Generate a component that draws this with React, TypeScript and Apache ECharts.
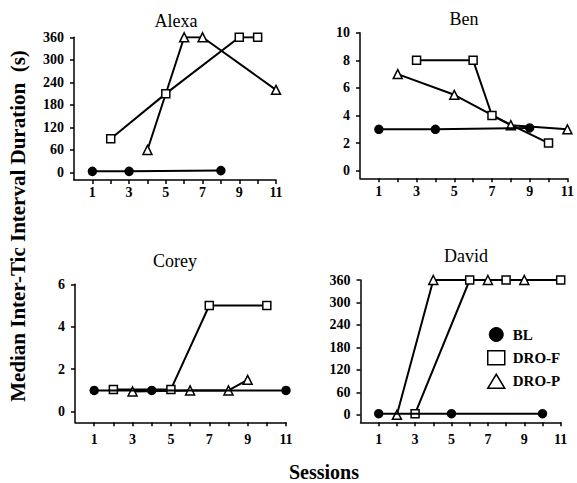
import React, { useEffect, useRef } from "react";
import * as echarts from "echarts";

// ---- Data ----
const sessionTicks = [1, 2, 3, 4, 5, 6, 7, 8, 9, 10, 11];
const sessionLabels = [1, 3, 5, 7, 9, 11];
const secTicks = [0, 60, 120, 180, 240, 300, 360];
const benTicks = [0, 2, 4, 6, 8, 10];
const coreyTicks = [0, 2, 4, 6];

// Alexa
const alexaBLx = [1, 3, 8];
const alexaBLy = [3, 3, 5];
const alexaFx = [2, 5, 9, 10];
const alexaFy = [90, 210, 360, 360];
const alexaPx = [4, 6, 7, 11];
const alexaPy = [60, 360, 360, 220];

// Ben
const benBLx = [1, 4, 9];
const benBLy = [3, 3, 3.1];
const benFx = [3, 6, 7, 10];
const benFy = [8, 8, 4, 2];
const benPx = [2, 5, 8, 11];
const benPy = [7, 5.5, 3.3, 3];

// Corey
const coreyBLx = [1, 4, 11];
const coreyBLy = [1, 1, 1];
const coreyFx = [2, 5, 7, 10];
const coreyFy = [1.05, 1.05, 5, 5];
const coreyPx = [3, 6, 8, 9];
const coreyPy = [0.95, 1, 1, 1.5];

// David
const davidBLx = [1, 5, 10];
const davidBLy = [3, 3, 3];
const davidFx = [3, 6, 8, 11];
const davidFy = [3, 360, 360, 360];
const davidPx = [2, 4, 7, 9];
const davidPy = [0, 360, 360, 360];

const panelNames = ["Alexa", "Ben", "Corey", "David"];
const seriesNames = ["BL", "DRO-F", "DRO-P"];

const FONT = "'Liberation Serif', 'Times New Roman', serif";

const zip = (xs: number[], ys: number[]) => xs.map((x, i) => [x, ys[i]]);

const panels = [
  { grid: { left: 74, top: 37.3, width: 202, height: 142.7 }, min: -20, max: 360, ticks: secTicks, xMargin: 5, title: [176, 20.5],
    data: [zip(alexaBLx, alexaBLy), zip(alexaFx, alexaFy), zip(alexaPx, alexaPy)] },
  { grid: { left: 360, top: 32.7, width: 207.7, height: 145.6 }, min: -0.55, max: 10, ticks: benTicks, xMargin: 6, title: [464, 18.5],
    data: [zip(benBLx, benBLy), zip(benFx, benFy), zip(benPx, benPy)] },
  { grid: { left: 75, top: 284.3, width: 211, height: 138 }, min: -0.5, max: 6, ticks: coreyTicks, xMargin: 10, title: [175, 260.5],
    data: [zip(coreyBLx, coreyBLy), zip(coreyFx, coreyFy), zip(coreyPx, coreyPy)] },
  { grid: { left: 360.5, top: 280, width: 200.2, height: 142.3 }, min: -20, max: 360, ticks: secTicks, xMargin: 10, title: [466, 255.5],
    data: [zip(davidBLx, davidBLy), zip(davidFx, davidFy), zip(davidPx, davidPy)] },
];

const symbolFor = ["circle", "rect", "triangle"];
const sizeFor = [8, 8, 9];
const fillFor = ["#000", "#fff", "#fff"];

export default function App() {
  const ref = useRef<HTMLDivElement>(null);
  useEffect(() => {
    if (!ref.current) return;
    const chart = echarts.init(ref.current, null, { renderer: "svg" });
    const axisLineStyle = { show: true, lineStyle: { color: "#000", width: 1.5 } };
    const labelStyle = { color: "#000", fontFamily: FONT, fontSize: 14, fontWeight: "bold" as const };

    const grid = panels.map((p) => ({ ...p.grid, containLabel: false }));
    const xAxis = panels.map((p, i) => ({
      type: "value" as const,
      gridIndex: i,
      min: 0,
      max: 11,
      axisLine: { ...axisLineStyle, onZero: false },
      axisTick: { show: true, length: 4, customValues: sessionTicks, lineStyle: { color: "#000", width: 1.5 } },
      axisLabel: { show: true, customValues: sessionLabels, margin: p.xMargin, ...labelStyle },
      splitLine: { show: false },
    }));
    const yAxis = panels.map((p, i) => ({
      type: "value" as const,
      gridIndex: i,
      min: p.min,
      max: p.max,
      axisLine: { ...axisLineStyle, onZero: false },
      axisTick: { show: true, length: 4, customValues: p.ticks, lineStyle: { color: "#000", width: 1.5 } },
      axisLabel: { show: true, customValues: p.ticks, margin: 10, ...labelStyle },
      splitLine: { show: false },
    }));

    const series: any[] = [];
    panels.forEach((p, i) => {
      [1, 2, 0].forEach((k) => {
        series.push({
          type: "line",
          name: seriesNames[k],
          xAxisIndex: i,
          yAxisIndex: i,
          data: p.data[k],
          symbol: symbolFor[k],
          symbolSize: sizeFor[k],
          showAllSymbol: true,
          lineStyle: { color: "#000", width: 2 },
          itemStyle: { color: fillFor[k], borderColor: "#000", borderWidth: 1.5 },
          emphasis: { disabled: true },
          silent: true,
          z: k === 0 ? 4 : 3,
        });
      });
    });

    const graphic: any[] = panels.map((p, i) => ({
      type: "text",
      x: p.title[0],
      y: p.title[1],
      style: { text: panelNames[i], font: `18px ${FONT}`, fill: "#000", textAlign: "center", textVerticalAlign: "middle" },
    }));
    graphic.push({
      type: "text",
      x: 324,
      y: 471.5,
      style: { text: "Sessions", font: `bold 20px ${FONT}`, fill: "#000", textAlign: "center", textVerticalAlign: "middle" },
    });
    graphic.push({
      type: "text",
      x: 18,
      y: 226,
      rotation: Math.PI / 2,
      style: { text: "Median Inter-Tic Interval Duration  (s)", font: `bold 21px ${FONT}`, fill: "#000", textAlign: "center", textVerticalAlign: "middle" },
    });

    chart.setOption({
      animation: false,
      backgroundColor: "#fff",
      grid,
      xAxis,
      yAxis,
      series,
      graphic,
      legend: {
        orient: "vertical",
        left: 482,
        top: 322,
        itemWidth: 17,
        itemHeight: 14,
        itemGap: 8,
        selectedMode: false,
        textStyle: { color: "#000", fontFamily: FONT, fontSize: 15, fontWeight: "bold", padding: [0, 0, 0, 3] },
        data: [
          { name: "BL", icon: "circle", itemStyle: { color: "#000", borderColor: "#000", borderWidth: 1 } },
          { name: "DRO-F", icon: "rect", itemStyle: { color: "#fff", borderColor: "#000", borderWidth: 1.5 } },
          { name: "DRO-P", icon: "triangle", itemStyle: { color: "#fff", borderColor: "#000", borderWidth: 1.5 } },
        ],
      },
    });
    return () => chart.dispose();
  }, []);
  return (
    <div
      ref={ref}
      style={{ position: "fixed", left: 0, top: 0, width: 577, height: 483, background: "#fff" }}
    />
  );
}
